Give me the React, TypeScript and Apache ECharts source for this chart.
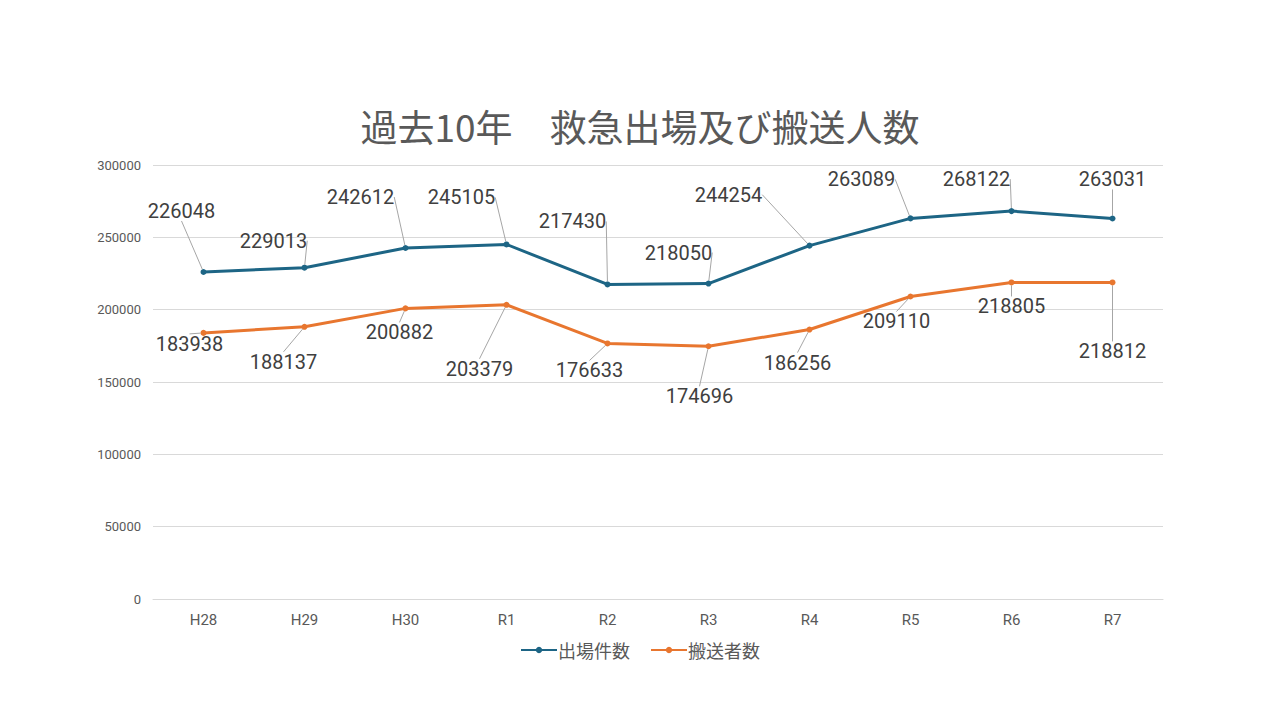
import React, { useEffect, useRef } from "react";
import * as echarts from "echarts";

const categories = ["H28", "H29", "H30", "R1", "R2", "R3", "R4", "R5", "R6", "R7"];
const dispatchCounts = [226048, 229013, 242612, 245105, 217430, 218050, 244254, 263089, 268122, 263031];
const transportCounts = [183938, 188137, 200882, 203379, 176633, 174696, 186256, 209110, 218805, 218812];
const seriesNames = ["出場件数", "搬送者数"];
const titleText = "過去10年　救急出場及び搬送人数";

// label offsets (pixels from each point to its label centre)
const dispatchLabelOffsets: [number, number][] = [
  [-22, -61], [-31, -27], [-45, -51], [-45, -47], [-35, -63],
  [-30, -31], [-81, -51], [-49, -39], [-35, -32], [0, -39],
];
const transportLabelOffsets: [number, number][] = [
  [-14, 11], [-21, 35], [-6, 24], [-27, 64], [-18, 27],
  [-9, 50], [-12, 33], [-14, 25], [0, 24], [0, 69],
];

const NUM = 'Roboto, "Noto Sans CJK JP", sans-serif';
const CJK = '"Noto Sans CJK JP", sans-serif';

export default function App() {
  const ref = useRef<HTMLDivElement>(null);
  useEffect(() => {
    if (!ref.current) return;
    const chart = echarts.init(ref.current, undefined, { renderer: "svg" });
    const offsets = [dispatchLabelOffsets, transportLabelOffsets];
    const mkLabel = () => ({
      show: true,
      position: "inside" as const,
      fontSize: 20,
      fontFamily: NUM,
      color: "#404040",
    });
    chart.setOption({
      animation: false,
      backgroundColor: "#ffffff",
      title: {
        text: titleText,
        left: "center",
        top: 102,
        textStyle: { fontSize: 37, fontWeight: "normal", color: "#595959", fontFamily: CJK },
      },
      grid: { left: 153, right: 117, top: 165, bottom: 121 },
      legend: {
        bottom: 56,
        left: "center",
        itemWidth: 36,
        itemHeight: 8,
        itemGap: 20,
        textStyle: { fontSize: 18, color: "#595959", fontFamily: CJK, padding: [0, 0, 0, -4] },
        data: seriesNames,
      },
      xAxis: {
        type: "category",
        data: categories,
        boundaryGap: true,
        axisLine: { show: true, lineStyle: { color: "#d9d9d9" } },
        axisTick: { show: false },
        axisLabel: { fontSize: 15, color: "#595959", fontFamily: NUM, margin: 13 },
      },
      yAxis: {
        type: "value",
        min: 0,
        max: 300000,
        interval: 50000,
        axisLine: { show: false },
        axisTick: { show: false },
        splitLine: { lineStyle: { color: "#d9d9d9" } },
        axisLabel: {
          fontSize: 13,
          color: "#595959",
          fontFamily: NUM,
          margin: 12,
          formatter: (v: number) => String(v),
        },
      },
      labelLayout: (params: any) => {
        const o = offsets[params.seriesIndex]?.[params.dataIndex];
        if (!o) return {};
        return { dx: o[0], dy: o[1] };
      },
      series: [
        {
          name: seriesNames[0],
          type: "line",
          data: dispatchCounts,
          symbol: "circle",
          symbolSize: 6,
          lineStyle: { width: 3, color: "#1d6585" },
          itemStyle: { color: "#1d6585" },
          label: mkLabel(),
          labelLine: { show: true, lineStyle: { color: "#a6a6a6", width: 1 } },
        },
        {
          name: seriesNames[1],
          type: "line",
          data: transportCounts,
          symbol: "circle",
          symbolSize: 6,
          lineStyle: { width: 3, color: "#e8762f" },
          itemStyle: { color: "#e8762f" },
          label: mkLabel(),
          labelLine: { show: true, lineStyle: { color: "#a6a6a6", width: 1 } },
        },
      ],
    });
    return () => chart.dispose();
  }, []);
  return <div ref={ref} style={{ width: 1280, height: 720, position: "absolute", left: 0, top: 0 }} />;
}
